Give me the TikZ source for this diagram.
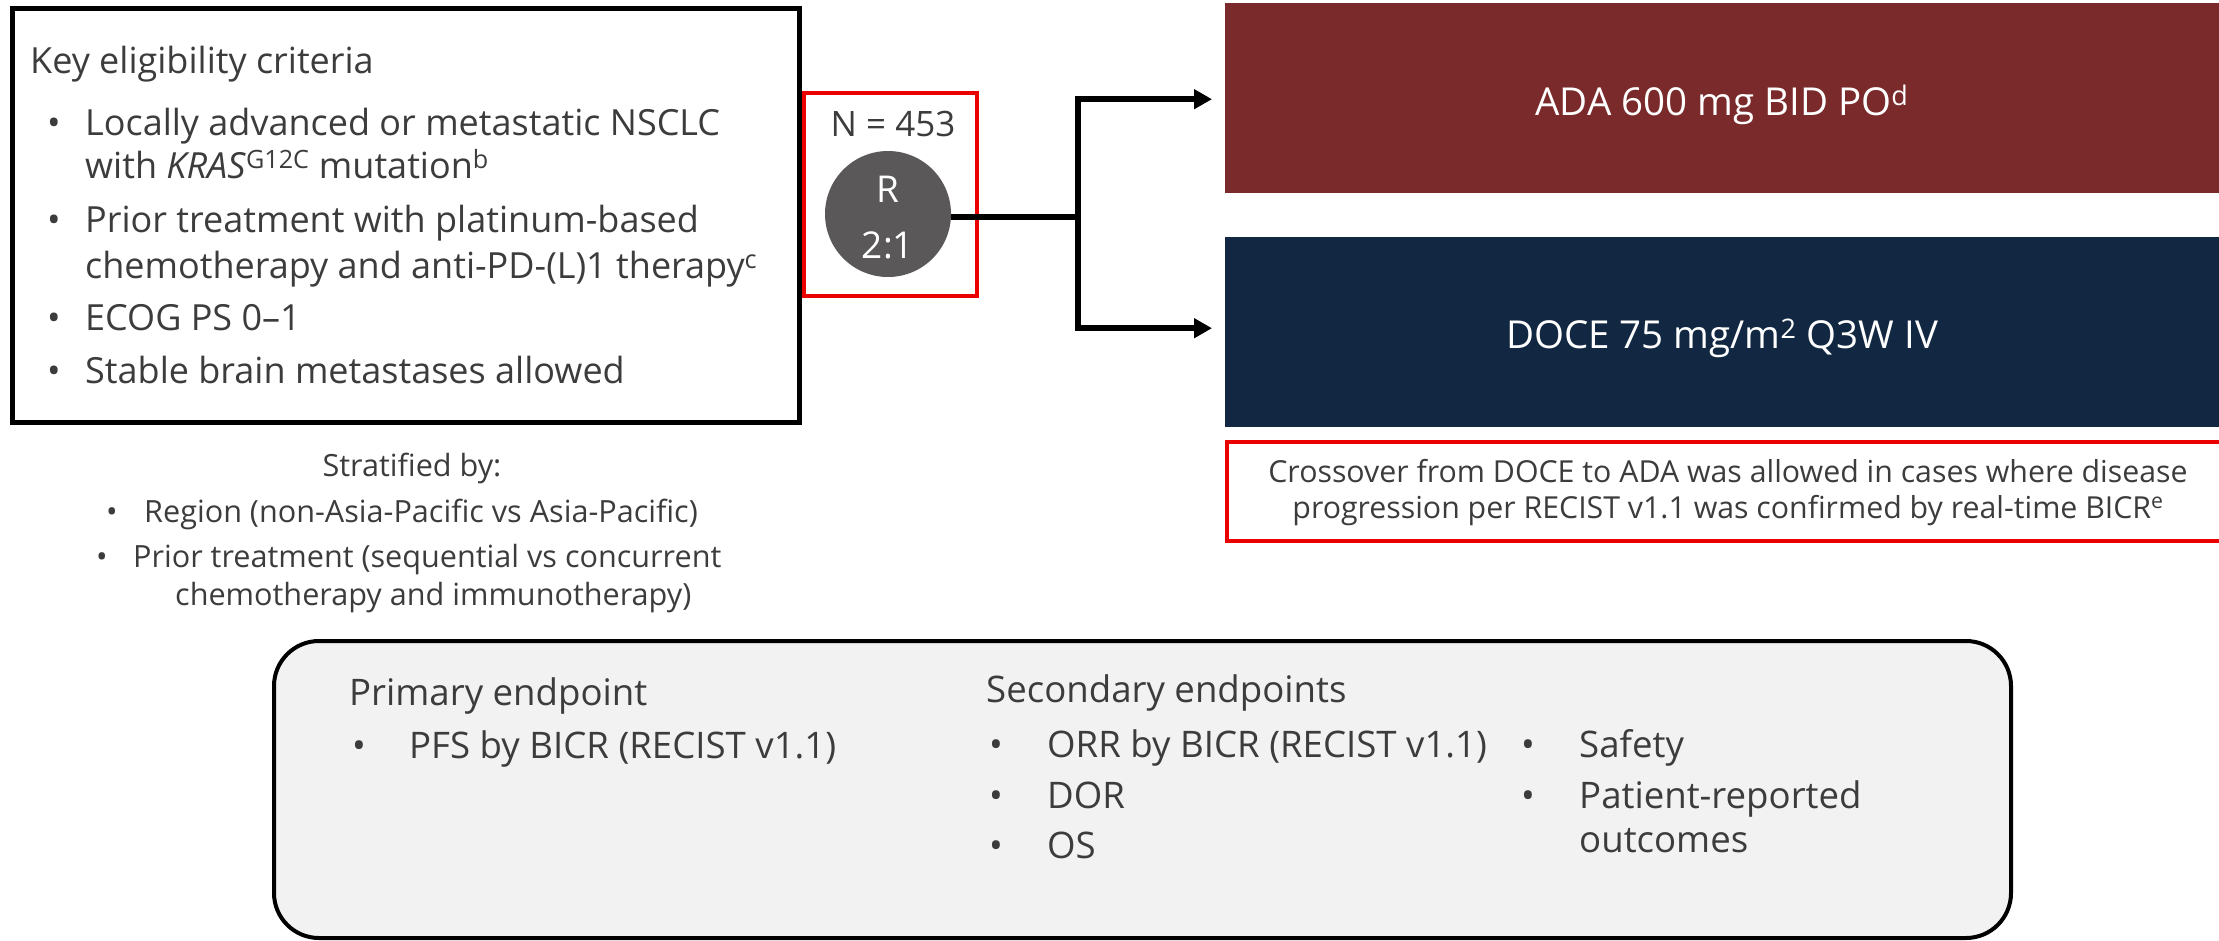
\documentclass[tikz,border=0pt]{standalone}
\usepackage{fontspec}
\setmainfont{Open Sans}
\usetikzlibrary{arrows.meta}
\definecolor{txt}{RGB}{60,60,60}
\definecolor{adared}{RGB}{122,42,43}
\definecolor{docenavy}{RGB}{18,40,66}
\definecolor{circgray}{RGB}{90,88,88}
\definecolor{boxgray}{RGB}{242,242,242}
\definecolor{hired}{RGB}{235,0,0}
\newcommand{\fsz}[1]{\fontsize{#1}{#1}\selectfont}
\begin{document}
\begin{tikzpicture}[x=1pt,y=-1pt,
  tl/.style={anchor=base west, inner sep=0pt, text=txt},
  tc/.style={anchor=base, inner sep=0pt, text=txt},
  bigf/.style={font=\fsz{36}},
  midf/.style={font=\fsz{30.6}},
  endf/.style={font=\fsz{36.6}},
  arr/.style={line width=6.5pt, -{Triangle[length=18pt,width=19pt]}},
  conn/.style={line width=6.5pt}]
\useasboundingbox (0,0) rectangle (2219,940);

% eligibility box
\node[draw=black, line width=5pt, minimum width=787pt, minimum height=414pt, inner sep=0pt] (elig) at (405.5,215) {};
\node[tl,bigf] (kec) at (30,73) {Key eligibility criteria};
\node[tl,bigf] (b1) at (47,135) {•};
\node[tl,bigf] (l1a) at (85,135) {Locally advanced or metastatic NSCLC};
\node[tl,bigf] (l1b) at (85,178) {with \textit{KRAS}\textsuperscript{G12C} mutation\textsuperscript{b}};
\node[tl,bigf] (b2) at (47,232) {•};
\node[tl,bigf] (l2a) at (85,232) {Prior treatment with platinum-based};
\node[tl,bigf] (l2b) at (85,278) {chemotherapy and anti-PD-(L)1 therapy\textsuperscript{c}};
\node[tl,bigf] (b3) at (47,330) {•};
\node[tl,bigf] (l3) at (85,330) {ECOG PS 0–1};
\node[tl,bigf] (b4) at (47,383) {•};
\node[tl,bigf] (l4) at (85,383) {Stable brain metastases allowed};

% randomisation
\node[draw=hired, line width=4pt, minimum width=173pt, minimum height=203pt, inner sep=0pt] (rbox) at (890.5,194.5) {};
\node[tc,font=\fsz{35}] (n) at (893,136) {N = 453};
\node[circle, fill=circgray, minimum size=126pt, inner sep=0pt] (circ) at (888,214) {};
\node[tc,font=\fsz{37},text=white] (rr) at (888,202) {R};
\node[tc,font=\fsz{37},text=white] (ratio) at (888,258) {2:1};

% arms
\node[fill=adared, minimum width=1000pt, minimum height=190pt, inner sep=0pt, anchor=north west] (ada) at (1225,3) {};
\node[tc,font=\fsz{38.5},text=white] (adat) at (1722,115) {ADA 600 mg BID PO\textsuperscript{d}};
\node[fill=docenavy, minimum width=1000pt, minimum height=190pt, inner sep=0pt, anchor=north west] (doce) at (1225,237) {};
\node[tc,font=\fsz{38.5},text=white] (docet) at (1722,348) {DOCE 75 mg/m\textsuperscript{2} Q3W IV};
\node[draw=hired, line width=4pt, minimum width=1000pt, minimum height=99pt, inner sep=0pt, anchor=north west] (cross) at (1225,440) {};
\node[tc,font=\fsz{30.3}] (cr1) at (1728,482) {Crossover from DOCE to ADA was allowed in cases where disease};
\node[tc,font=\fsz{30.3}] (cr2) at (1728,518) {progression per RECIST v1.1 was confirmed by real-time BICR\textsuperscript{e}};

% connectors
\coordinate (br) at (1078,217);
\draw[conn] (circ.east |- br) -- (br);
\draw[arr, shorten >=13pt] (br) |- ([yshift=-1pt]ada.west);
\draw[arr, shorten >=13pt] (br) |- ([yshift=4pt]doce.west);

% stratification
\node[tc,midf] (st) at (412,476) {Stratified by:};
\node[tl,midf] (sb1) at (106,522) {•};
\node[tl,midf] (s1) at (144,522) {Region (non-Asia-Pacific vs Asia-Pacific)};
\node[tl,midf] (sb2) at (96,567) {•};
\node[tl,midf] (s2) at (133,567) {Prior treatment (sequential vs concurrent};
\node[tl,midf] (s3) at (175,605) {chemotherapy and immunotherapy)};

% endpoints
\draw[line width=4pt, fill=boxgray, rounded corners=45pt] (274,641) rectangle (2011,938);
\node[tl,endf] (pe) at (349,705) {Primary endpoint};
\node[tl,endf] (pb1) at (352,758) {•};
\node[tl,endf] (p1) at (409,758) {PFS by BICR (RECIST v1.1)};
\node[tl,endf] (se) at (986,702) {Secondary endpoints};
\node[tl,endf] (sb1e) at (989,757) {•};
\node[tl,endf] (se1) at (1047,757) {ORR by BICR (RECIST v1.1)};
\node[tl,endf] (sb2e) at (989,808) {•};
\node[tl,endf] (se2) at (1047,808) {DOR};
\node[tl,endf] (sb3e) at (989,858) {•};
\node[tl,endf] (se3) at (1047,858) {OS};
\node[tl,endf] (sb4e) at (1521,757) {•};
\node[tl,endf] (se4) at (1579,757) {Safety};
\node[tl,endf] (sb5e) at (1521,808) {•};
\node[tl,endf] (se5) at (1579,808) {Patient-reported};
\node[tl,endf] (se6) at (1579,852) {outcomes};
\end{tikzpicture}
\end{document}
